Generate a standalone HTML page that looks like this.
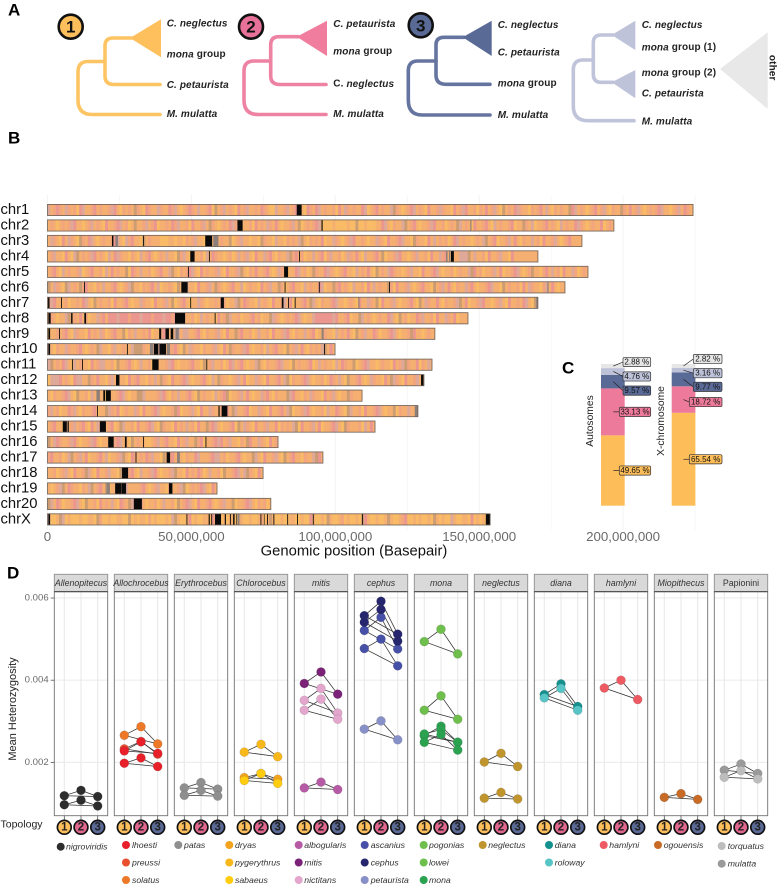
<!DOCTYPE html>
<html lang="en">
<head>
<meta charset="utf-8">
<title>Topology composite figure</title>
<style>
html,body{margin:0;padding:0;background:#fff;}
svg{display:block;}
text{font-family:"Liberation Sans",sans-serif;}
.lbl{font-size:10px;font-weight:bold;fill:#222;letter-spacing:.12px;dominant-baseline:central;}
.lbl tspan.i{font-style:italic;}
.pl{font-size:17px;font-weight:bold;fill:#000;dominant-baseline:central;}
.bd{font-size:17px;font-weight:bold;fill:#111;text-anchor:middle;dominant-baseline:central;}
</style>
</head>
<body>
<svg id="fig" xmlns="http://www.w3.org/2000/svg" width="777" height="887" viewBox="0 0 777 887">
<rect x="0" y="0" width="777" height="887" fill="#fff"/>
<text class="pl" x="8" y="10">A</text>
<text class="pl" x="8" y="138">B</text>
<text class="pl" x="562" y="368">C</text>
<text class="pl" x="7" y="573">D</text>

<g fill="none" stroke="#FDC464" stroke-width="3.6" stroke-linecap="round">
<path d="M132,38H113Q105,38 105,46V76Q105,84.5 114,84.5H160"/>
<path d="M105,61.5H88Q78,61.5 78,72V100Q78,114.5 92,114.5H160"/>
<polygon points="130,38 161,19.3 161,57.3" fill="#FDC05C" stroke="none"/>
</g>
<g><circle cx="70.7" cy="26.7" r="12" fill="#FDBF5C" stroke="#111" stroke-width="2.6"/><text class="bd" x="70.7" y="27.2">1</text></g>
<text class="lbl" x="166.7" y="23.3"><tspan class="i">C. neglectus</tspan></text>
<text class="lbl" x="166.7" y="54.3"><tspan class="i">mona</tspan> group</text>
<text class="lbl" x="166.7" y="85"><tspan class="i">C. petaurista</tspan></text>
<text class="lbl" x="166.7" y="114"><tspan class="i">M. mulatta</tspan></text>

<g fill="none" stroke="#EE82A2" stroke-width="3.6" stroke-linecap="round">
<path d="M298,36.7H279Q270.7,36.7 270.7,45V76Q270.7,84.5 280,84.5H326"/>
<path d="M270.7,61H254Q244,61 244,71V100Q244,114.5 258,114.5H326"/>
<polygon points="296.7,36.7 327,20.7 327,56" fill="#F07C9E" stroke="none"/>
</g>
<g><circle cx="251" cy="26.7" r="12" fill="#E8719A" stroke="#111" stroke-width="2.6"/><text class="bd" x="251" y="27.2">2</text></g>
<text class="lbl" x="333.3" y="24"><tspan class="i">C. petaurista</tspan></text>
<text class="lbl" x="333.3" y="51.7"><tspan class="i">mona</tspan> group</text>
<text class="lbl" x="333.3" y="84">C. <tspan class="i">neglectus</tspan></text>
<text class="lbl" x="333.3" y="114"><tspan class="i">M. mulatta</tspan></text>

<g fill="none" stroke="#6675A0" stroke-width="3.6" stroke-linecap="round">
<path d="M464,37.3H444Q436,37.3 436,45V75Q436,84.3 446,84.3H490"/>
<path d="M436,61H418Q408.3,61 408.3,71V100Q408.3,115 422,115H490"/>
<polygon points="462.7,37.3 491.7,20.7 491.7,56" fill="#5A6A96" stroke="none"/>
</g>
<g><circle cx="420.7" cy="25.3" r="12" fill="#5A6A96" stroke="#111" stroke-width="2.6"/><text class="bd" x="420.7" y="25.8">3</text></g>
<text class="lbl" x="497.7" y="25"><tspan class="i">C. neglectus</tspan></text>
<text class="lbl" x="497.7" y="52.7"><tspan class="i">C. petaurista</tspan></text>
<text class="lbl" x="497.7" y="83.7"><tspan class="i">mona</tspan> group</text>
<text class="lbl" x="497.7" y="115"><tspan class="i">M. mulatta</tspan></text>

<g fill="none" stroke="#C0C4DA" stroke-width="3.6" stroke-linecap="round">
<path d="M613,35H601Q593.3,35 593.3,43V74Q593.3,82.3 601,82.3H613"/>
<path d="M593.3,60H583Q573.3,60 573.3,70V106Q573.3,120.7 588,120.7H634"/>
<polygon points="611.7,35 635.3,20.7 635.3,50" fill="#BFC3D9" stroke="none"/>
<polygon points="611.7,82.3 635.3,70 635.3,98.3" fill="#BFC3D9" stroke="none"/>
</g>
<polygon points="720,69 767.7,32.3 767.7,109" fill="#E8E8E8"/>
<text class="lbl" transform="translate(772,67.7) rotate(90)" text-anchor="middle">other</text>
<text class="lbl" x="641.7" y="25"><tspan class="i">C. neglectus</tspan></text>
<text class="lbl" x="641.7" y="47.7"><tspan class="i">mona</tspan> group (1)</text>
<text class="lbl" x="641.7" y="73"><tspan class="i">mona</tspan> group (2)</text>
<text class="lbl" x="641.7" y="93.7"><tspan class="i">C. petaurista</tspan></text>
<text class="lbl" x="641.7" y="121.7"><tspan class="i">M. mulatta</tspan></text>

<g id="panelB"></g>
<g id="panelC"></g>
<g id="panelD"></g>
</svg>

<script>
/* ---------- Panel B data ---------- */
const chrNames = ["chr1","chr2","chr3","chr4","chr5","chr6","chr7","chr8","chr9","chr10","chr11","chr12","chr13","chr14","chr15","chr16","chr17","chr18","chr19","chr20","chrX"];
const chrLengthsMb = [224.3,196.8,185.7,170.4,187.8,179.8,170.4,146.1,134.6,99.9,133.6,130.8,109.3,128.7,113.8,80.1,95.7,74.9,58.9,77.6,153.8];
const genomeTicks = [0,50,100,150,200];
const genomeTickLabels = ["0","50,000,000","100,000,000","150,000,000","200,000,000"];
const genomeGridMb = [0,25,50,75,100,125,150,175,200,225];
/* one character per Mb: a orange, y yellow, s salmon, p pink, m mauve, t tan */
const stripeColours = {a:"#F5AF70",y:"#F9BB66",s:"#F2A57E",p:"#EC9690",m:"#DFA99A",t:"#CC9C72"};
const chrStripes = [
"maspsamsasypmaaspasaasmpaysasatsaypsaamsaapsmayaspsamaaspytasmasaypasmaasapsayymaasmaspaaypsapmasaasypamsasaapmyaspasaamtsayaspmasaypaasmsaaypasmpaasysapasmaytasapmsaaysaspamaysasaatpmasayaspasmaysaatsapasmayasaspmaayasmapsaasyamas",
"asayasasmpaayasmasaypaaspmasyataasmaspyaasapsmaasypaasmatsayasapmsayaasypasamsapayaasmatyasaspmyyyyayyyyayytyyayyyaapmaysaamtaspayaasmpaasyasatmasaypaaspaymasaaspyaatsamyaaspasaymasaapmsayasaapyasamasypa",
"amsaypamsaytsapmayasaaspmaymspaaytasaaayyyaayaaysasmaaypaayasaatyasmaayaaytsaaymaaysasamtaysasapyaamsayasmpaasayaamsaypaaspmaaytsaaypamasasyapmasaayasamtaspyaasmapaysaamasypaasmayaspa",
"asmaaypaymtasasmpasaymapmsaaysaymaspayasamaaytsmayaaasymapsaayasyamasmaypaamspaysaamtspasyaamaspysmaasyamsapaymaaspatyaasmpaayasmaasypaamspayaammmtamaasypaasmaayp",
"aspaymasaasmyaspaasymapasaatypsamaasyaspaamtaysaspmaypasaasmaypaasmtaysapaaspayamsayaapmasyatsaapmsayaspaaymasapaytasampsaayasmaaypaaspmayaasyasaamtpasyaasmapyaaspmayastaayspamasypaamsyas",
"tamsaytmasatspaaysamaaspayasmtaaysaspamyaasaytasmaaypaasmatsayaspaamyasaaypasmaatsyaspaaymasaapmyaatspasaymaasypamasaatsypaasmayaspaaytasmapaysaamspayaaspmaaytasaasypamsaaysmapayaas",
"smpaaasyaasapmaytasaasypaaspayaamsaaypaasmatyaspayaamsayaasapsyaamtapsaaymasaypaasmapyaaspatmaysaaspmaayasaypaamsatypaasmayaaspaytamsaapaysaasmtapyaasmpaayasmaypaasapmaytas",
"asayaamtasapasyaamspapppmpppspppmpppspppmppspppsaasyamasaaypastmaasyaaspasyaatmsayasaspmayaamppppppmpaaspyaatmasayasaapmaytasyaapsmaasypaamsapy",
"yaasaspaymsaaypasamsyaspaatysamaasapyaaspmaymmammaaspaysaasmaypaatspaasyamaasypaasmpaysaamaspyatsaaymasapaytasmaapsyaaspmayaastpaayas",
"maysaamsaaspayasatmaaysmaasaamtttsaaspmasaaspaytamsaaysaasmaypatsaasmpayaasymaspaaytasmapaysasamtapyasa",
"mtasapmaymasaaypasmmaasytaaspayamaasypaaasmpayaaaspaaytasmaasyapmaspayaamtaysaaspmaaytasaaspyamasaaymapsaatyaspmaayasaaypasmtsaapysam",
"ymmmpasaypmmaatsapaaysmamaaypaspaaysamatsaypaaspmayaaspaymatsaayasmapyaamsaypaaspamtysaaspmayaasyapsamaytaaspayamsaaypatmsaypaasm",
"aysaaspmaytaasymasaaypaaspmayaattmaaaasmpaysamaaspaytasaaymasptyaasmapayaamspaysaaatmpaaysamsaaypasmayaats",
"smasyaapsmaysaaspyaatmsapyasaamsypaaspmayaastpyaasmaypaamsaasypatmaaspyaamsaypaaspamtyaasmpayaasymaapsaytmaasypaaspmayaatysaam",
"aspaaytasmaspaypamsaaspyatmaasypaaspmaytsaaypasamasypaatspmayaaspytamsaypaasmaapysasamtypaasmapyaaspmaytsaaasymap",
"tampsaasmpayaasmpayaataspmaaytasaayyasmaspaaypasmaatspyaaspmpasmaaysatpaamsaypas",
"spaasyamtasmapyaaspamyaasmtaypsasapsmaaytaspamaysaapmaaaspmmasyaaspayaatmaypaasmaytaspaaysaamtpsyas",
"aasyasmaypaastmaypaasmaaytaaspaymaasmpayaasmtaaypasapsyamaasytaaspmamtsaypa",
"ayasmtapsaaysamtaspatyaatttmaaaaspayasmaaypaasmtyasaspmaypa",
"tmapsyaaspmaytaasypasamaypsatmaspayaasyamaasytaspmaypaaspayasmaatyaaspmaysasyp",
"myyatmyayyyayyaaytsyyayyaayytyayaaysyayyyaymtayyapyayyaaypayyayaaytayyayyasyatayyayyaayyayypayyaytayyasyayyaytpayyayyatayyaspyyayayyaytayayymayyaaypyayayya"
];
const blackBands = [
[[86.6,88.3]],
[[66,67.8],[95.2,95.6]],
[[22.4,22.9],[33.2,33.5],[54.8,57.2]],
[[49.6,51.1],[56.1,56.4],[87.4,87.7],[140.2,141.2]],
[[48.8,49.1],[82.2,83.6]],
[[12.7,13],[46.5,48.7],[82.4,82.7],[94.3,94.6],[118.7,119]],
[[0.2,0.7],[4.7,5],[49.6,49.9],[60.2,61.3],[81.4,82],[83.6,83.9],[85.9,86.2]],
[[0.3,1.1],[8.2,8.7],[12.8,13.4],[44.3,47.8],[58.1,58.4]],
[[0.3,0.9],[4,4.3],[38.8,39.5],[41,42.2],[42.8,43.7]],
[[0.3,0.9],[27.6,27.9],[37,38.5],[38.9,41.2],[96.1,96.4]],
[[8.5,8.8],[12,12.3],[36.4,38.6],[55.2,55.5]],
[[23.8,25],[129.8,130.6]],
[[19.4,20],[20.3,22]],
[[17.2,17.5],[59.4,59.8],[60.5,62.5]],
[[5.3,6.7],[7,7.4],[18.2,20.3]],
[[21.1,23],[26.9,27.5],[33.2,33.5],[54.9,55.2]],
[[30.6,30.9],[41.4,42.6]],
[[25.9,28]],
[[23.5,25.7],[25.8,27.3],[42.2,43.4]],
[[30,32.8]],
[[0.3,0.9],[48.3,48.6],[56,56.4],[56.9,57.2],[58.2,60.3],[61.6,62],[63.4,63.7],[64.5,65],[65.5,65.7],[74,74.3],[75.2,75.4],[76.3,76.6],[78.5,78.8],[83.3,83.6],[86.7,87],[92.2,92.5],[109.3,109.6],[152.3,153.8]]
];
const greyBands = [
[],[[146.9,147.3]],[[23.6,24.5],[57.6,59.4]],[[138.5,139],[139.5,140]],[],[[173.7,174.1]],[[108,108.4],[169.8,170.4]],[],[[44.5,45.6],[95.4,95.9]],[[35.6,36.8],[41.5,42.6]],[],[],[[17,18.2]],[[127.6,128.7]],[],[],[[45,46]],[],[[20.5,21.7]],[],[[66,66.6]]
];

/* ---------- Panel C data ---------- */
const shareTopologies = ["topology-1","topology-2","topology-3","other-tree-a","other-tree-b"];
const autosomeShares = [49.65,33.13,9.57,4.76,2.88];
const xChromosomeShares = [65.54,18.72,9.77,3.16,2.82];

/* ---------- Panel D data (mean heterozygosity at topologies 1, 2, 3) ---------- */
const facetNames = ["Allenopitecus","Allochrocebus","Erythrocebus","Chlorocebus","mitis","cephus","mona","neglectus","diana","hamlyni","Miopithecus","Papionini"];
const yTicks = [0.002,0.004,0.006];
const yTickLabels = ["0.002","0.004","0.006"];
const topologyTicks = ["1","2","3"];
const nigroviridis = [[.00119,.00132,.00117],[.00097,.00108,.00094]];
const solatus = [[.00266,.00287,.00245]];
const preussi = [[.00233,.00251,.00220]];
const lhoesti = [[.00228,.00250,.00222],[.00198,.00211,.00190]];
const patas = [[.00138,.00151,.00135],[.00120,.00132,.00118]];
const dryas = [[.00163,.00173,.00159]];
const pygerythrus = [[.00225,.00244,.00214]];
const sabaeus = [[.00156,.00173,.00149]];
const albogularis = [[.00138,.00152,.00134]];
const mitis = [[.00392,.00420,.00366]];
const nictitans = [[.00351,.00380,.00320],[.00327,.00354,.00305]];
const ascanius = [[.00521,.00553,.00476],[.00477,.00500,.00435]];
const cephus = [[.00557,.00592,.00512],[.00541,.00572,.00495]];
const petaurista = [[.00281,.00301,.00255]];
const pogonias = [[.00327,.00362,.00305]];
const lowei = [[.00494,.00524,.00464]];
const mona = [[.00265,.00288,.00249],[.00269,.00280,.00249],[.00249,.00268,.00230]];
const neglectus = [[.00201,.00222,.00190],[.00113,.00127,.00111]];
const diana = [[.00365,.00391,.00336]];
const roloway = [[.00357,.00380,.00327]];
const hamlyni = [[.00381,.00400,.00353]];
const ogouensis = [[.00115,.00124,.00110]];
const mulatta = [[.00181,.00196,.00173]];
const torquatus = [[.00164,.00180,.00160]];

const SVGNS = "http://www.w3.org/2000/svg";
function make(tag, props, parent, txt){
  const e = document.createElementNS(SVGNS, tag);
  for (const k in props) e.setAttribute(k, props[k]);
  if (txt !== undefined) e.textContent = txt;
  parent.appendChild(e);
  return e;
}

/* ---------- Panel B drawing ---------- */
const panelB = document.getElementById("panelB");
const genomeX = mb => 47.5 + 2.878 * mb;
const chrY = i => 210 + 15.47 * i;
genomeGridMb.forEach(mb => {
  const l = make("line",{x1:genomeX(mb),x2:genomeX(mb),y1:195,y2:530,stroke:"#f3f3f3","stroke-width":mb%50===0?1:0.6},panelB);
  
  
});
chrNames.forEach((name,i) => {
  const cy = chrY(i), h = 11.2;
  const row = make("g",{},panelB);
  
  
  const lab = make("text",{x:0.5,y:cy,"font-size":14.8,fill:"#111","dominant-baseline":"central"},row,name);
  
  
  const base = make("rect",{x:genomeX(0),y:cy-h/2,width:genomeX(chrLengthsMb[i])-genomeX(0),height:h,fill:stripeColours.a},row);
  
  
  const s = chrStripes[i];
  for (let b=0; b<s.length && b<Math.floor(chrLengthsMb[i]); b++){
    const r = make("rect",{x:genomeX(b),y:cy-h/2,width:genomeX(1)-genomeX(0)+0.2,height:h,fill:stripeColours[s[b]]},row);
    
    
  }
  greyBands[i].forEach(bd => {
    const r = make("rect",{x:genomeX(bd[0]),y:cy-h/2,width:genomeX(bd[1])-genomeX(bd[0]),height:h,fill:"#8d7f7a"},row);
    
    
  });
  blackBands[i].forEach(bd => {
    const r = make("rect",{x:genomeX(bd[0]),y:cy-h/2,width:genomeX(bd[1])-genomeX(bd[0]),height:h,fill:"#0a0a0a"},row);
    
    
  });
  const o = make("rect",{x:genomeX(0),y:cy-h/2,width:genomeX(chrLengthsMb[i])-genomeX(0),height:h,fill:"none",stroke:"#6d5f55","stroke-width":0.8},row);
  
  
});
genomeTicks.forEach((t,i) => {
  const l = make("text",{x:genomeX(t),y:541,"font-size":13.3,fill:"#6a6a6a","text-anchor":"middle"},panelB,genomeTickLabels[i]);
  
  
});
const bTitle = make("text",{x:354,y:555.5,"font-size":14.8,fill:"#111","text-anchor":"middle"},panelB,"Genomic position (Basepair)");



/* ---------- Panel C drawing ---------- */
const panelC = document.getElementById("panelC");
const shareFill = ["#FDBD58","#EE7A9B","#5A6A96","#BEC2D8","#E6E6E6"];
const shareY = pct => 505.7 - 1.417 * pct;
const fmtShare = v => v.toFixed(2) + " %";
function drawStack(values, barX, leaderX, boxShort, boxLong, boxRight, nudges, title, titleX){
  const g = make("g",{},panelC);
  
  
  let acc = 0;
  values.forEach((v,i) => {
    const r = make("rect",{x:barX,y:shareY(acc+v),width:23.7,height:shareY(acc)-shareY(acc+v),fill:shareFill[i]},g);
    
    
    acc += v;
  });
  acc = 0;
  values.forEach((v,i) => {
    const my = shareY(acc + v/2);
    const ly = my + nudges[i];
    const left = i < 2 ? boxLong : boxShort;
    const ln = make("line",{x1:leaderX,y1:my,x2:left,y2:ly,stroke:"#222","stroke-width":0.7},g);
    
    
    const box = make("rect",{x:left,y:ly-4.6,width:boxRight-left,height:9.2,rx:1.5,fill:shareFill[i],stroke:"#333","stroke-width":0.7},g);
    
    
    const t = make("text",{x:(left+boxRight)/2,y:ly,"font-size":8,fill:"#111","text-anchor":"middle","dominant-baseline":"central"},g,fmtShare(v));
    
    
    acc += v;
  });
  const tt = make("text",{transform:"translate("+titleX+",421) rotate(-90)","font-size":10.3,fill:"#222","text-anchor":"middle","dominant-baseline":"central"},g,title);
  
  
}
drawStack(autosomeShares,601,613.3,623,619.3,650.7,[0,0,9,5,-4],"Autosomes",590.7);
drawStack(xChromosomeShares,671.7,683.5,693.3,689.3,722,[0,2.5,7.5,3,-7],"X-chromosome",661.7);

/* ---------- Panel D drawing ---------- */
const panelD = document.getElementById("panelD");
const facetX = i => 54.3 + 60 * i;
const facetW = 53.4;
const topoX = (i,k) => facetX(i) + 10 + 16.7 * k;
const hetY = v => 598 + (0.006 - v) * 41100;
const PANEL_TOP = 591.7, PANEL_BOT = 815.7;
const topoFill = ["#FDBF5C","#E0688F","#5A6A96"];

const speciesDraw = [
 [0,nigroviridis,"#2d2d2d"],
 [1,solatus,"#ED7828"],[1,preussi,"#E8502F"],[1,lhoesti,"#E8202A"],
 [2,patas,"#8f8f8f"],
 [3,dryas,"#F2A41F"],[3,pygerythrus,"#F8B81C"],[3,sabaeus,"#FFCC0E"],
 [4,albogularis,"#B75AA5"],[4,mitis,"#7B2278"],[4,nictitans,"#E3A6CC"],
 [5,petaurista,"#8890C8"],[5,ascanius,"#4650A6"],[5,cephus,"#26266F"],
 [6,pogonias,"#6EBF4B"],[6,lowei,"#6EBF4B"],[6,mona,"#2AA24F"],
 [7,neglectus,"#C0952E"],
 [8,diana,"#14918F"],[8,roloway,"#57C4C6"],
 [9,hamlyni,"#EE5A62"],
 [10,ogouensis,"#C76B26"],
 [11,mulatta,"#9B9A9B"],[11,torquatus,"#BDBDBD"]
];

facetNames.forEach((name,i) => {
  const g = make("g",{},panelD);
  
  
  yTicks.forEach(t => {
    const l = make("line",{x1:facetX(i),x2:facetX(i)+facetW,y1:hetY(t),y2:hetY(t),stroke:"#eeeeee","stroke-width":1.2},g);
    
    
  });
  topologyTicks.forEach((tk,k) => {
    const l = make("line",{x1:topoX(i,k),x2:topoX(i,k),y1:PANEL_TOP,y2:PANEL_BOT,stroke:"#e9e9e9","stroke-width":1.1},g);
    
    
  });
  speciesDraw.filter(d => d[0]===i).forEach(d => {
    d[1].forEach(run => {
      run.forEach((v,k) => {
        const nx = (k+1)%3;
        const l = make("line",{x1:topoX(i,k),y1:hetY(v),x2:topoX(i,nx),y2:hetY(run[nx]),stroke:"#333","stroke-width":0.75},g);
        
        
      });
    });
  });
  speciesDraw.filter(d => d[0]===i).forEach(d => {
    d[1].forEach(run => {
      run.forEach((v,k) => {
        const c = make("circle",{cx:topoX(i,k),cy:hetY(v),r:4.5,fill:d[2],stroke:"rgba(60,60,60,.25)","stroke-width":0.5},g);
        
        
      });
    });
  });
  const bd = make("rect",{x:facetX(i),y:PANEL_TOP,width:facetW,height:PANEL_BOT-PANEL_TOP,fill:"none",stroke:"#707070","stroke-width":0.9},g);
  
  
  const st = make("rect",{x:facetX(i),y:574.3,width:facetW,height:PANEL_TOP-574.3,fill:"#d9d9d9",stroke:"#8f8f8f","stroke-width":0.9},g);
  
  
  const sl = make("line",{x1:facetX(i),x2:facetX(i)+facetW,y1:PANEL_TOP,y2:PANEL_TOP,stroke:"#333","stroke-width":0.9},g);
  
  
  const tx = make("text",{x:facetX(i)+facetW/2,y:582.9,"font-size":8.8,"font-style":name==="Papionini"?"normal":"italic",fill:"#333","text-anchor":"middle","dominant-baseline":"central"},g,name);
  
  
  topologyTicks.forEach((tk,k) => {
    const ln = make("line",{x1:topoX(i,k),x2:topoX(i,k),y1:PANEL_BOT,y2:820,stroke:"#555","stroke-width":0.8},g);
    
    
    const c = make("circle",{cx:topoX(i,k),cy:827.3,r:6.9,fill:topoFill[k],stroke:"#111","stroke-width":1.7},g);
    
    
    const t = make("text",{x:topoX(i,k),y:827.6,"font-size":11.5,"font-weight":"bold",fill:"#222","text-anchor":"middle","dominant-baseline":"central"},g,tk);
    
    
  });
});
yTicks.forEach((t,i) => {
  const tl = make("line",{x1:50.7,x2:54.3,y1:hetY(t),y2:hetY(t),stroke:"#555","stroke-width":0.8},panelD);
  
  
  const lb = make("text",{x:48.7,y:hetY(t),"font-size":9.6,fill:"#6a6a6a","text-anchor":"end","dominant-baseline":"central"},panelD,yTickLabels[i]);
  
  
});
const yTitle = make("text",{transform:"translate(13,709) rotate(-90)","font-size":11,fill:"#222","text-anchor":"middle","dominant-baseline":"central"},panelD,"Mean Heterozygosity");


const topoTitle = make("text",{x:0.5,y:824.5,"font-size":10.5,fill:"#222","dominant-baseline":"central"},panelD,"Topology");



/* legend entries: name, colour, marker x, text x, y */
const legendNames = ["nigroviridis","lhoesti","preussi","solatus","patas","dryas","pygerythrus","sabaeus","albogularis","mitis","nictitans","ascanius","cephus","petaurista","pogonias","lowei","mona","neglectus","diana","roloway","hamlyni","ogouensis","torquatus","mulatta"];
const legendColours = ["#2d2d2d","#E8202A","#E8502F","#ED7828","#8f8f8f","#F2A41F","#F8B81C","#FFCC0E","#B75AA5","#7B2278","#E3A6CC","#4650A6","#26266F","#8890C8","#6EBF4B","#6EBF4B","#2AA24F","#C0952E","#14918F","#57C4C6","#EE5A62","#C76B26","#BDBDBD","#9B9A9B"];
const legendLayout = [[60.7,66,846.7],[126,132,845],[126,132,862.5],[126,132,880],[178.3,184,845],[229.3,235,845],[229.3,235,862.5],[229.3,235,880],[298.7,304.3,845],[298.7,304.3,862.5],[298.7,304.3,880],[364.7,370.7,845],[364.7,370.7,862.5],[364.7,370.7,880],[423.7,429,845],[423.7,429,862.5],[423.7,429,880],[482.7,488.3,845],[549,554.7,845],[549,554.7,862.5],[603.7,609.3,845],[658,663.7,845],[721.7,727.7,846],[721.7,727.7,863.7]];
legendNames.forEach((n,i) => {
  const p = legendLayout[i];
  const c = make("circle",{cx:p[0],cy:p[2],r:4,fill:legendColours[i]},panelD);
  
  
  const t = make("text",{x:p[1],y:p[2],"font-size":8.7,"font-style":"italic",fill:"#333","dominant-baseline":"central"},panelD,n);
  
  
});
</script>
</body>
</html>
